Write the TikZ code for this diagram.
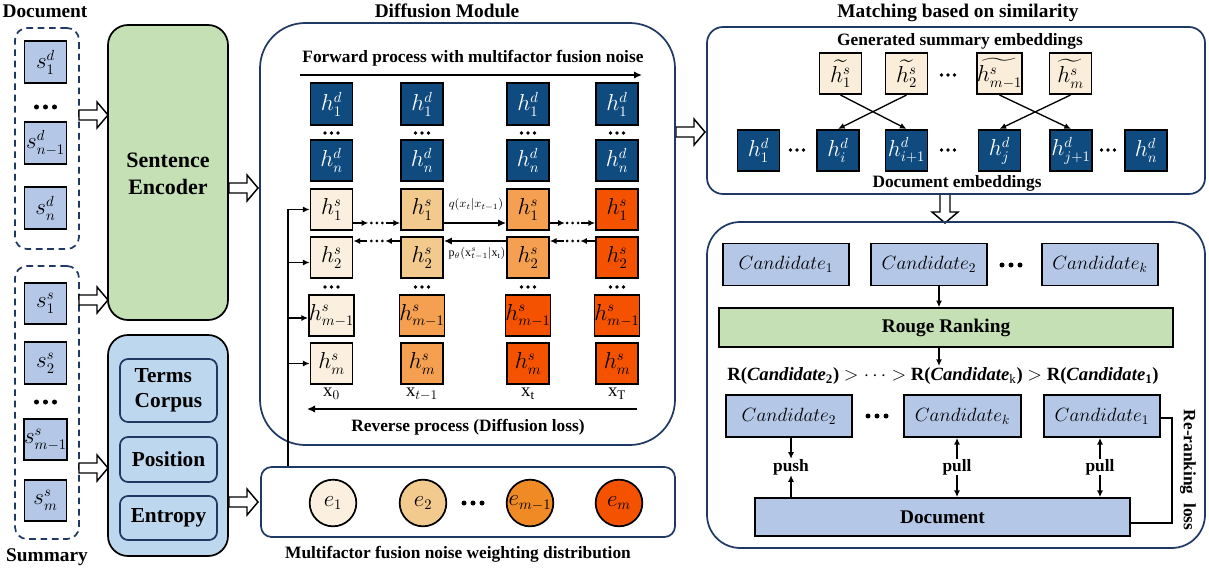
\documentclass[tikz,border=0pt]{standalone}
\usepackage{fontspec}
\setmainfont{Liberation Serif}
\usepackage{amsmath}
\usepackage{bm}
\usetikzlibrary{arrows.meta,calc,fit}
\definecolor{hdblue}{RGB}{16,75,128}
\definecolor{sblue}{RGB}{180,199,231}
\definecolor{encgreen}{RGB}{197,224,180}
\definecolor{facblue}{RGB}{189,215,238}
\definecolor{frame}{RGB}{31,56,100}
\definecolor{c0}{RGB}{251,240,223}
\definecolor{c1}{RGB}{242,202,141}
\definecolor{c2}{RGB}{244,160,80}
\definecolor{c3}{RGB}{245,82,0}
\definecolor{c2e}{RGB}{240,138,36}
\definecolor{tbox}{RGB}{250,238,218}
\begin{document}
\begin{tikzpicture}[x=0.75pt,y=-0.75pt,
  tt/.style={font=\fontsize{14.5}{17}\selectfont\bfseries, inner sep=0pt},
  lab/.style={font=\fontsize{13}{15}\selectfont\bfseries, inner sep=0pt},
  sq/.style={draw=black, line width=1.3pt, minimum width=31.5pt, minimum height=31pt, inner sep=0pt, font=\fontsize{16}{18}\selectfont},
  hd/.style={sq, fill=hdblue, text=white},
  sbox/.style={sq, fill=sblue},
  frm/.style={draw=frame, line width=1.3pt, inner sep=0pt},
  dashbox/.style={draw=frame, line width=1.3pt, dash pattern=on 5pt off 3.5pt, rounded corners=9pt, inner sep=0pt},
  arr/.style={line width=1.6pt, -{Latex[length=6pt,width=5.5pt]}},
  sarr/.style={line width=1.3pt, -{Latex[length=5pt,width=4.5pt]}},
  cand/.style={draw=black, line width=1.3pt, fill=sblue, minimum height=31.5pt, inner sep=0pt, font=\fontsize{14.5}{17}\selectfont},
  ebox/.style={draw=black, line width=1.3pt, circle, minimum size=35pt, inner sep=0pt, font=\fontsize{16}{18}\selectfont},
  hollow/.pic={\draw[line width=1.1pt, fill=white, line join=miter] (0,-5) -- (18,-5) -- (18,-13) -- (29,0) -- (18,13) -- (18,5) -- (0,5) -- cycle;},
  bdots/.pic={\foreach \i in {-1,0,1} \fill (\i*9,0) circle (2.5);},
  sdots/.pic={\foreach \i in {-1,0,1} \fill (\i*6.5,0) circle (1.8);},
  fdots/.pic={\foreach \i in {-1,0,1} \fill (\i*5.5,0) circle (1.5);}
]
\useasboundingbox (0,0) rectangle (1209,570);

% ---------------- left column ----------------
\node[tt] at (45,11) {Document};
\node[tt] at (47,557) {Summary};
\node[dashbox, fit={(15,28) (79,249)}] (docbox) {};
\node[dashbox, fit={(15,266) (79,539)}] (sumbox) {};
\node[sbox] (ld1) at (45.5,62) {$s_1^d$};
\pic at (45.5,107) {bdots};
\node[sbox] (ld2) at (45.5,143) {$s_{n-1}^d$};
\node[sbox] (ld3) at (45.5,208) {$s_n^d$};
\node[sbox] (ls1) at (45.5,303.5) {$s_1^s$};
\node[sbox] (ls2) at (45.5,363) {$s_2^s$};
\pic at (45.5,402) {bdots};
\node[sbox] (ls3) at (45.5,439.5) {$s_{m-1}^s$};
\node[sbox] (ls4) at (45.5,500.5) {$s_m^s$};

% encoder and factor boxes
\node[draw=black, line width=1.3pt, fill=encgreen, rounded corners=15pt, inner sep=0pt, fit={(108,25) (228,320)}] (enc) {};
\node[font=\fontsize{16.5}{20}\selectfont\bfseries, align=center] at (168,174) {Sentence\\Encoder};
\node[draw=black, line width=1.3pt, fill=facblue, rounded corners=15pt, inner sep=0pt, fit={(108,335) (228,556)}] (fac) {};
\node[frm, fill=facblue, rounded corners=6pt, fit={(120,359) (217,422)}] (terms) {};
\node[font=\fontsize{16}{19}\selectfont\bfseries, align=left] at (terms.center) {Terms\\Corpus};
\node[frm, fill=facblue, rounded corners=6pt, fit={(120,437) (217,482)}] (pos) {};
\node[font=\fontsize{16}{19}\selectfont\bfseries] at (pos.center) {Position};
\node[frm, fill=facblue, rounded corners=6pt, fit={(120,496) (217,540)}] (ent) {};
\node[font=\fontsize{16}{19}\selectfont\bfseries] at (ent.center) {Entropy};

% hollow arrows
\pic at (79,115) {hollow};
\pic at (79,300) {hollow};
\pic at (79,468) {hollow};
\pic at (229,188) {hollow};
\pic at (229,502) {hollow};
\pic at (676,132) {hollow};
\pic[rotate=-90] at (945,194) {hollow};

% ---------------- diffusion module ----------------
\node[tt] at (447,11) {Diffusion Module};
\node[frm, rounded corners=34pt, fit={(260,23) (675,445)}] (diff) {};
\node[lab] at (473,58) {Forward process with multifactor fusion noise};
\coordinate (fws) at (300,75);
\coordinate (fwe) at (642,75);
\draw[arr] (fws) -- (fwe);
\coordinate (rvs) at (637,409);
\coordinate (rve) at (307,409);
\draw[arr] (rvs) -- (rve);
\node[lab] at (468,427) {Reverse process (Diffusion loss)};

\foreach \c/\x in {1/331.5,2/422,3/528,4/617} {
  \node[hd] (d1\c) at (\x,104) {$h_1^d$};
  \node[hd] (dn\c) at (\x,160.5) {$h_n^d$};
  \pic at (\x,133) {sdots};
  \pic at (\x,287) {sdots};
}
\foreach \c/\x/\ca/\cb in {1/331.5/c0/c0, 2/422/c1/c2, 3/528/c2/c3, 4/617/c3/c3} {
  \node[sq,fill=\ca] (sa\c) at (\x,209.5) {$h_1^s$};
  \node[sq,fill=\ca] (sb\c) at (\x,257.5) {$h_2^s$};
  \node[sq,fill=\cb] (sc\c) at (\x,315.5) {$h_{m-1}^s$};
  \node[sq,fill=\cb] (sd\c) at (\x,363.5) {$h_m^s$};
}
\node[font=\fontsize{14}{16}\selectfont] at (331.5,394) {$\mathrm{x}_0$};
\node[font=\fontsize{14}{16}\selectfont] at (422,394) {$\mathrm{x}_{t-1}$};
\node[font=\fontsize{14}{16}\selectfont] at (528,394) {$\mathrm{x}_\mathrm{t}$};
\node[font=\fontsize{14}{16}\selectfont] at (617,394) {$\mathrm{x}_\mathrm{T}$};

% forward row arrows
\draw[sarr] ($(sa1.east)+(0,13.5)$) -- ++(15,0);
\pic at ($(sa1.east)!0.5!(sa2.west)+(0,13.5)$) {fdots};
\draw[sarr] ($(sa2.west)+(-14,13.5)$) -- ($(sa2.west)+(0,13.5)$);
\draw[arr] ($(sa2.east)+(0,13.5)$) -- ($(sa3.west)+(0,13.5)$);
\node[font=\fontsize{9}{10}\selectfont] at (476,205) {$q(x_t|x_{t-1})$};
\draw[sarr] ($(sa3.east)+(0,13.5)$) -- ++(15,0);
\pic at ($(sa3.east)!0.5!(sa4.west)+(0,13.5)$) {fdots};
\draw[sarr] ($(sa4.west)+(-14,13.5)$) -- ($(sa4.west)+(0,13.5)$);
% reverse row arrows
\draw[sarr] ($(sb4.west)+(0,-16.5)$) -- ++(-15,0);
\pic at ($(sb3.east)!0.5!(sb4.west)+(0,-16.5)$) {fdots};
\draw[sarr] ($(sb3.east)+(14,-16.5)$) -- ($(sb3.east)+(0,-16.5)$);
\draw[arr] ($(sb3.west)+(0,-16.5)$) -- ($(sb2.east)+(0,-16.5)$);
\node[font=\fontsize{9}{10}\selectfont] at (477,254) {$\mathrm{p}_\theta(\mathrm{x}^s_{t-1}|\mathrm{x}_\mathrm{t})$};
\draw[sarr] ($(sb2.west)+(0,-16.5)$) -- ++(-15,0);
\pic at ($(sb1.east)!0.5!(sb2.west)+(0,-16.5)$) {fdots};
\draw[sarr] ($(sb1.east)+(14,-16.5)$) -- ($(sb1.east)+(0,-16.5)$);

% noise box
\node[frm, rounded corners=8pt, fit={(261,467) (675,537)}] (noise) {};
\node[ebox, fill=c0] (e1) at (333,503) {$e_1$};
\node[ebox, fill=c1] (e2) at (423,503) {$e_2$};
\pic at (473,503) {bdots};
\node[ebox, fill=c2e] (e3) at (530,503) {$e_{m-1}$};
\node[ebox, fill=c3] (e4) at (619,503) {$e_m$};
\node[lab] at (458,554) {Multifactor fusion noise weighting distribution};

% feedback line
\coordinate (fb) at (288,0);
\draw[line width=1.3pt] (noise.north -| fb) -- (sa1.west -| fb);
\draw[sarr] (sa1.west -| fb) -- (sa1.west);
\draw[sarr] ($(sb1.west -| fb)+(0,5)$) -- ($(sb1.west)+(0,5)$);
\draw[sarr] ($(sc1.west -| fb)+(0,2.5)$) -- ($(sc1.west)+(0,2.5)$);
\draw[sarr] (sd1.west -| fb) -- (sd1.west);

% ---------------- matching ----------------
\node[tt] at (958,13) {Matching based on similarity};
\node[frm, rounded corners=12pt, fit={(707,27) (1205,194)}] (match) {};
\node[lab] at (960,41) {Generated summary embeddings};
\node[lab] at (957,183) {Document embeddings};
\node[sq, fill=tbox] (g1) at (840.5,73.5) {$\widetilde{h_1^s}$};
\node[sq, fill=tbox] (g2) at (906.5,73.5) {$\widetilde{h_2^s}$};
\pic at (948,75) {sdots};
\node[sq, fill=tbox] (g3) at (999.5,73.5) {$\widetilde{h_{m-1}^s}$};
\node[sq, fill=tbox] (g4) at (1070.5,73.5) {$\widetilde{h_m^s}$};
\node[hd] (m1) at (758.5,150.5) {$h_1^d$};
\pic at (797,150) {sdots};
\node[hd] (mi) at (838,150.5) {$h_i^d$};
\node[hd] (mi1) at (906.5,150.5) {$h_{i+1}^d$};
\pic at (948,150) {sdots};
\node[hd] (mj) at (999.5,150.5) {$h_j^d$};
\node[hd] (mj1) at (1071,150.5) {$h_{j+1}^d$};
\pic at (1108,150) {sdots};
\node[hd] (mn) at (1146,150.5) {$h_n^d$};
\draw[sarr, line width=1pt] (g1.south) -- (mi1.north);
\draw[sarr, line width=1pt] (g2.south) -- (mi.north);
\draw[sarr, line width=1pt] (g3.south) -- (mj1.north);
\draw[sarr, line width=1pt] (g4.south) -- (mj.north);

% ---------------- ranking ----------------
\node[frm, rounded corners=25pt, fit={(707,222) (1205,548)}] (rank) {};
\node[cand, minimum width=94.5pt] (a1) at (786,264.5) {$Candidate_1$};
\node[cand, minimum width=87pt] (a2) at (929,264.5) {$Candidate_2$};
\pic at (1011,265) {bdots};
\node[cand, minimum width=87pt] (ak) at (1100,264.5) {$Candidate_k$};
\node[draw=black, line width=1.3pt, fill=encgreen, minimum width=340pt, minimum height=29pt, inner sep=0pt, font=\fontsize{14.5}{17}\selectfont\bfseries] (rouge) at (946,327.5) {Rouge Ranking};
\coordinate (rx) at (939,0);
\draw[sarr] (a2.south -| rx) -- (rouge.north -| rx);
\coordinate (rk) at (939,366);
\draw[sarr] (rouge.south -| rx) -- (rk);
\node[font=\fontsize{14}{17}\selectfont\bfseries] at (943,376) {R(\textit{Candidate}$_\mathbf{2}$) $>\cdots>$ R(\textit{Candidate}$_\mathrm{k}$) $>$ R(\textit{Candidate}$_\mathbf{1}$)};
\node[cand, minimum width=94.5pt] (b2) at (789,416) {$Candidate_2$};
\pic at (877,416) {bdots};
\node[cand, minimum width=88pt] (bk) at (962.5,416) {$Candidate_k$};
\node[cand, minimum width=87pt] (b1) at (1102,416) {$Candidate_1$};
\node[draw=black, line width=1.3pt, fill=sblue, minimum width=281pt, minimum height=28.5pt, inner sep=0pt, font=\fontsize{14.5}{17}\selectfont\bfseries] (doc) at (942.5,517) {Document};

\coordinate (px) at (791,0);
\coordinate (qx) at (957,0);
\coordinate (ux) at (1100,0);
\node[lab] (push) at (791,467) {push};
\node[lab] (pull1) at (957,467) {pull};
\node[lab] (pull2) at (1100,467) {pull};
\draw[sarr] (b2.south -| px) -- (push.north);
\draw[sarr] (doc.north -| px) -- (push.south);
\draw[sarr] (pull1.north) -- (bk.south -| qx);
\draw[sarr] (pull1.south) -- (doc.north -| qx);
\draw[sarr] (pull2.north) -- (b1.south -| ux);
\draw[sarr] (pull2.south) -- (doc.north -| ux);
\coordinate (rl) at (1172,0);
\draw[line width=1pt] ($(b1.east)+(0,2)$) -| ($(doc.east -| rl)+(0,6)$) -- ($(doc.east)+(0,6)$);
\node[lab, rotate=-90] at (1188,470) {Re-ranking\ \ loss};
\end{tikzpicture}
\end{document}
